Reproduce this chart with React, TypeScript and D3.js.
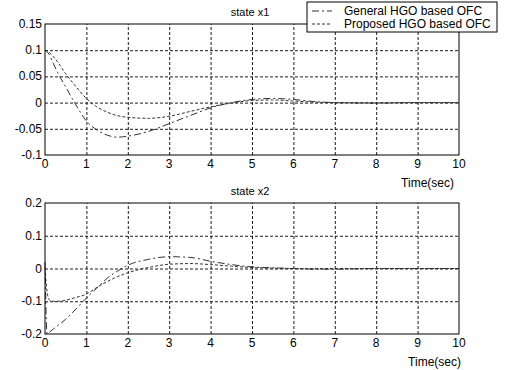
import React from "react";
import * as d3 from "d3";

// time samples (sec)
const time = [0, 0.05, 0.1, 0.2, 0.3, 0.5, 0.7, 1, 1.25, 1.5, 1.75, 2, 2.5, 3, 3.5, 4, 4.5, 5, 5.5, 6, 6.5, 7, 8, 9, 10];

// state x1
const x1General = [0.1, 0.097, 0.092, 0.075, 0.058, 0.03, 0.002, -0.035, -0.052, -0.062, -0.066, -0.064, -0.055, -0.04, -0.025, -0.01, 0.0, 0.006, 0.008, 0.006, 0.002, 0, -0.001, 0, 0];
const x1Proposed = [0.1, 0.099, 0.096, 0.088, 0.078, 0.055, 0.035, 0.008, -0.008, -0.018, -0.025, -0.028, -0.03, -0.026, -0.017, -0.008, -0.001, 0.004, 0.005, 0.003, 0.001, 0, 0, 0, 0];

// state x2
const x2General = [0.02, -0.2, -0.195, -0.185, -0.175, -0.155, -0.13, -0.09, -0.06, -0.03, -0.008, 0.01, 0.028, 0.036, 0.034, 0.022, 0.012, 0.005, 0.002, 0, -0.002, -0.002, 0, 0, 0];
const x2Proposed = [0, -0.07, -0.095, -0.1, -0.1, -0.097, -0.09, -0.078, -0.058, -0.04, -0.025, -0.013, 0.003, 0.013, 0.015, 0.012, 0.007, 0.003, 0.001, 0, 0, 0, 0, 0, 0];

const xTicks = [0, 1, 2, 3, 4, 5, 6, 7, 8, 9, 10];
const y1Ticks = [-0.1, -0.05, 0, 0.05, 0.1, 0.15];
const y2Ticks = [-0.2, -0.1, 0, 0.1, 0.2];

const seriesNames = ["General HGO based OFC", "Proposed HGO based OFC"];
const dashes = ["7,3,2,3", "3,2"];

export default function App() {
    const ref = React.useRef<SVGSVGElement>(null);

    React.useEffect(() => {
        const svg = d3.select(ref.current);
        svg.selectAll("*").remove();
        const font = "Liberation Sans, Arial, sans-serif";

        var x = d3.scaleLinear().domain([0, 10]).range([45, 459]);

        function panel(top: number, bottom: number, yDomain: number[], yTicks: number[], title: string, series: number[][], timeLabelY: number, timeLabelX: number) {
            var y = d3.scaleLinear().domain(yDomain).range([bottom, top]);
            var g = svg.append("g");

            // grid
            g.append("g")
                .attr("transform", `translate(0,${bottom})`)
                .call(d3.axisBottom(x).tickValues(xTicks.slice(1, -1)).tickSize(-(bottom - top)).tickFormat(() => ""))
                .call((a) => a.select(".domain").remove())
                .call((a) => a.selectAll("line").attr("stroke", "#000").attr("stroke-dasharray", "3,2").attr("stroke-width", 0.9));
            g.append("g")
                .attr("transform", `translate(45,0)`)
                .call(d3.axisLeft(y).tickValues(yTicks.slice(1, -1)).tickSize(-414).tickFormat(() => ""))
                .call((a) => a.select(".domain").remove())
                .call((a) => a.selectAll("line").attr("stroke", "#000").attr("stroke-dasharray", "3,2").attr("stroke-width", 0.9));

            // lines
            series.forEach((vals, i) => {
                var line = d3
                    .line<number>()
                    .x((d, k) => x(time[k]))
                    .y((d) => y(d))
                    .curve(d3.curveMonotoneX);
                g.append("path")
                    .attr("d", line(vals))
                    .attr("fill", "none")
                    .attr("stroke", "#333")
                    .attr("stroke-width", 1)
                    .attr("stroke-dasharray", dashes[i]);
            });

            // box
            g.append("rect")
                .attr("x", 45)
                .attr("y", top)
                .attr("width", 414)
                .attr("height", bottom - top)
                .attr("fill", "none")
                .attr("stroke", "#000")
                .attr("stroke-width", 1);

            // tick labels
            g.selectAll("text.xt")
                .data(xTicks)
                .enter()
                .append("text")
                .attr("x", (d) => x(d))
                .attr("y", bottom + 13)
                .attr("text-anchor", "middle")
                .attr("font-family", font)
                .attr("font-size", 12)
                .text((d) => d);
            g.selectAll("text.yt")
                .data(yTicks)
                .enter()
                .append("text")
                .attr("x", 42)
                .attr("y", (d) => y(d) + 4)
                .attr("text-anchor", "end")
                .attr("font-family", font)
                .attr("font-size", 12)
                .text((d) => String(d));

            g.append("text")
                .attr("x", 250)
                .attr("y", top - 8)
                .attr("text-anchor", "middle")
                .attr("font-family", font)
                .attr("font-size", 11)
                .text(title);
            g.append("text")
                .attr("x", timeLabelX)
                .attr("y", timeLabelY)
                .attr("text-anchor", "end")
                .attr("font-family", font)
                .attr("font-size", 12)
                .text("Time(sec)");
        }

        panel(24, 155, [-0.1, 0.15], y1Ticks, "state x1", [x1General, x1Proposed], 187, 454);
        panel(203, 334, [-0.2, 0.2], y2Ticks, "state x2", [x2General, x2Proposed], 366, 461);

        // legend
        var lg = svg.append("g");
        lg.append("rect")
            .attr("x", 307)
            .attr("y", 2)
            .attr("width", 190)
            .attr("height", 30)
            .attr("fill", "#fff")
            .attr("stroke", "#000")
            .attr("stroke-width", 1);
        seriesNames.forEach((name, i) => {
            var yy = 11 + i * 13;
            lg.append("line")
                .attr("x1", 312)
                .attr("x2", 332)
                .attr("y1", yy)
                .attr("y2", yy)
                .attr("stroke", "#333")
                .attr("stroke-dasharray", dashes[i]);
            lg.append("text")
                .attr("x", 344)
                .attr("y", yy + 4)
                .attr("font-family", font)
                .attr("font-size", 12)
                .text(name);
        });
    }, []);

    return <svg ref={ref} width={509} height={370} style={{ position: "absolute", left: 0, top: 0, background: "#fff" }} />;
}
